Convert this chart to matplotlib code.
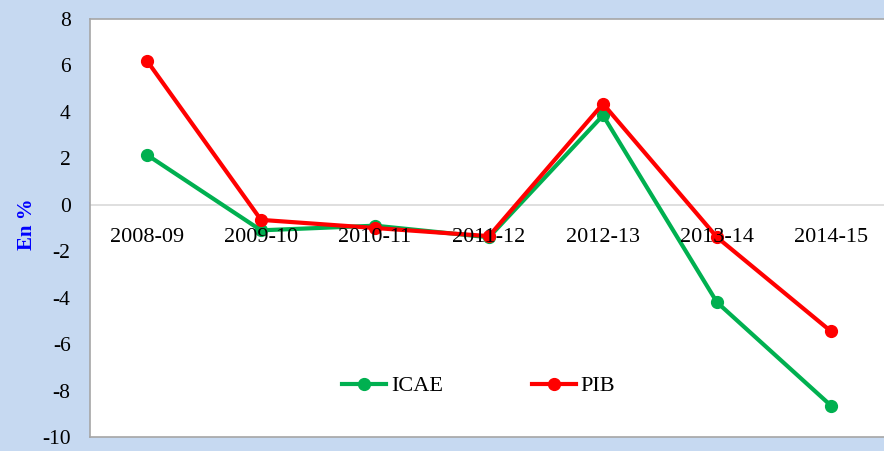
import numpy as np
import matplotlib.pyplot as plt

# données
periodes = ['2008-09', '2009-10', '2010-11', '2011-12', '2012-13', '2013-14', '2014-15']
icae = [2.15, -1.1, -0.9, -1.4, 3.85, -4.2, -8.65]
pib = [6.2, -0.65, -1.0, -1.35, 4.35, -1.4, -5.45]

plt.rcParams['font.family'] = ['Liberation Serif', 'DejaVu Serif']
plt.rcParams['axes.unicode_minus'] = False

fig = plt.figure(figsize=(8.84, 4.51), dpi=100, facecolor='#C6D9F1')
ax = fig.add_axes([90 / 884, 14 / 451, 798 / 884, 418 / 451])
ax.set_facecolor('white')

x = np.arange(len(periodes))
ax.plot(x, icae, color='#00B050', lw=3, marker='o', ms=8.5, label='ICAE')
ax.plot(x, pib, color='#FF0000', lw=3, marker='o', ms=8.5, label='PIB')

ax.axhline(0, color='#D9D9D9', lw=1.2, zorder=0)

# étiquettes des catégories sous la ligne zéro
for i, p in enumerate(periodes):
    ax.annotate(p, (i, 0), xytext=(0, -17), textcoords='offset points',
                ha='center', va='top', fontsize=16)

ax.set_xlim(-0.5, 6.5)
ax.set_ylim(-10, 8)
ax.set_yticks(np.arange(-10, 9, 2))
ax.set_xticks([])
ax.tick_params(axis='y', labelsize=15.5, length=0, pad=14)

for s in ax.spines.values():
    s.set_color('#A6A6A6')
    s.set_linewidth(1.2)

ax.set_ylabel('En %', color='#0000FF', fontweight='bold', fontsize=15)
ax.yaxis.set_label_coords(-0.066, 0.51)

ax.legend(loc='center', bbox_to_anchor=(0.487, 0.122), ncol=2, frameon=False,
          fontsize=16, handlelength=2, handletextpad=0.2, columnspacing=4)

plt.savefig('out.png', dpi=100, facecolor=fig.get_facecolor())
